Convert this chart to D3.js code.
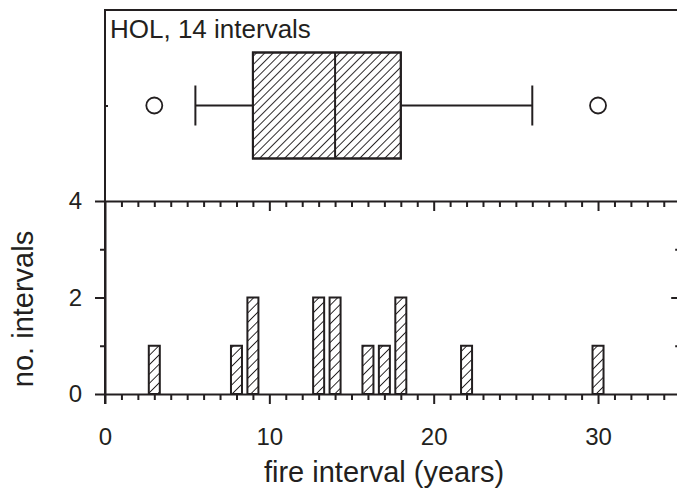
<!DOCTYPE html>
<html>
<head>
<meta charset="utf-8">
<script src="https://cdn.jsdelivr.net/npm/d3@7"></script>
<style>
  html, body { margin: 0; padding: 0; background: #fff; }
  svg { display: block; font-family: "Liberation Sans", Arial, Helvetica, sans-serif; }
</style>
</head>
<body>
<svg id="chart" width="677" height="488"></svg>
<script>
// Histogram of fire intervals (years) and their count
const intervalYears = [3, 8, 9, 13, 14, 16, 17, 18, 22, 30];
const intervalCounts = [1, 1, 2, 2, 2, 1, 1, 2, 1, 1];

// Box-plot summary: whisker low, Q1, median, Q3, whisker high
const boxStats = [5.5, 9, 14, 18, 26];
const outliers = [3, 30];

const siteLabel = "HOL, 14 intervals";
const xTicksMajor = [0, 10, 20, 30];
const yTicksMajor = [0, 2, 4];
const xTitle = "fire interval (years)";
const yTitle = "no. intervals";

const ink = "#231f20";
const svg = d3.select("#chart");

const x = d3.scaleLinear().domain([0, 35]).range([105, 680.2]);
const y = d3.scaleLinear().domain([0, 4]).range([394, 201]);
const yBox = d3.scaleLinear().domain([0, 1]).range([201, 10]);

// hatch patterns
const defs = svg.append("defs");
function hatch(id, gap, sw) {
  const p = defs.append("pattern")
    .attr("id", id)
    .attr("patternUnits", "userSpaceOnUse")
    .attr("width", gap).attr("height", 20)
    .attr("patternTransform", "rotate(45)");
  p.append("line").attr("x1", 0).attr("y1", 0).attr("x2", 0).attr("y2", 20)
    .attr("stroke", ink).attr("stroke-width", sw);
}
hatch("hatchBox", 5.9, 1.9);
hatch("hatchBar", 6.6, 1.9);

// --- histogram bars
const halfW = 0.335;
const bars = svg.append("g");
intervalYears.forEach((v, i) => {
  bars.append("rect")
    .attr("x", x(v - halfW)).attr("y", y(intervalCounts[i]))
    .attr("width", x(v + halfW) - x(v - halfW))
    .attr("height", y(0) - y(intervalCounts[i]))
    .attr("fill", "#fff");
  bars.append("rect")
    .attr("x", x(v - halfW)).attr("y", y(intervalCounts[i]))
    .attr("width", x(v + halfW) - x(v - halfW))
    .attr("height", y(0) - y(intervalCounts[i]))
    .attr("fill", "url(#hatchBar)")
    .attr("stroke", ink).attr("stroke-width", 2);
});

// --- box plot
const [wLo, q1, med, q3, wHi] = boxStats;
const cy = yBox(0.5);
const bh = 53;
const box = svg.append("g").attr("stroke", ink).attr("stroke-width", 2).attr("fill", "none");
box.append("line").attr("x1", x(wLo)).attr("x2", x(q1)).attr("y1", cy).attr("y2", cy);
box.append("line").attr("x1", x(q3)).attr("x2", x(wHi)).attr("y1", cy).attr("y2", cy);
box.append("line").attr("x1", x(wLo)).attr("x2", x(wLo)).attr("y1", cy - 20).attr("y2", cy + 20);
box.append("line").attr("x1", x(wHi)).attr("x2", x(wHi)).attr("y1", cy - 20).attr("y2", cy + 20);
box.append("rect").attr("x", x(q1)).attr("y", cy - bh).attr("width", x(q3) - x(q1)).attr("height", 2 * bh)
  .attr("fill", "#fff");
box.append("rect").attr("x", x(q1)).attr("y", cy - bh).attr("width", x(q3) - x(q1)).attr("height", 2 * bh)
  .attr("fill", "url(#hatchBox)");
box.append("line").attr("x1", x(med)).attr("x2", x(med)).attr("y1", cy - bh).attr("y2", cy + bh);
box.selectAll("circle").data(outliers).join("circle")
  .attr("cx", d => x(d)).attr("cy", cy).attr("r", 8).attr("stroke-width", 1.8).attr("fill", "#fff");

// --- axes
function style(g) {
  g.selectAll("path, line").attr("stroke", ink).attr("stroke-width", 2);
  g.selectAll("text").attr("fill", ink).attr("font-size", 24)
    .attr("font-family", "'Liberation Sans', Arial, sans-serif");
}
const allX = d3.range(0, 36);
const minorX = allX.filter(v => v % 10 !== 0);

// bottom axis (outward ticks)
svg.append("g").attr("transform", `translate(0,${y(0)})`)
  .call(d3.axisBottom(x).tickValues(minorX).tickSize(6).tickSizeOuter(0).tickFormat(""))
  .call(style);
svg.append("g").attr("transform", `translate(0,${y(0)})`)
  .call(d3.axisBottom(x).tickValues(xTicksMajor).tickSize(10).tickPadding(24).tickSizeOuter(0).tickFormat(d3.format("d")))
  .call(style)
  .call(g => g.select(".domain").remove());

// top edge of the histogram panel (inward ticks)
svg.append("g").attr("transform", `translate(0,${y(4)})`)
  .call(d3.axisBottom(x).tickValues(minorX).tickSize(6).tickSizeOuter(0).tickFormat(""))
  .call(style);
svg.append("g").attr("transform", `translate(0,${y(4)})`)
  .call(d3.axisBottom(x).tickValues(xTicksMajor.slice(1)).tickSize(10).tickSizeOuter(0).tickFormat(""))
  .call(style)
  .call(g => g.select(".domain").remove());

// left axis
svg.append("g").attr("transform", `translate(${x(0)},0)`)
  .call(d3.axisLeft(y).tickValues([1, 3]).tickSize(5).tickSizeOuter(0).tickFormat(""))
  .call(style);
svg.append("g").attr("transform", `translate(${x(0)},0)`)
  .call(d3.axisLeft(y).tickValues(yTicksMajor).tickSize(10).tickPadding(13).tickSizeOuter(0).tickFormat(d3.format("d")))
  .call(style)
  .call(g => g.select(".domain").remove());

// right axis (inward ticks)
svg.append("g").attr("transform", `translate(${x(35)},0)`)
  .call(d3.axisLeft(y).tickValues([1, 3]).tickSize(5).tickSizeOuter(0).tickFormat(""))
  .call(style);
svg.append("g").attr("transform", `translate(${x(35)},0)`)
  .call(d3.axisLeft(y).tickValues([2]).tickSize(9).tickSizeOuter(0).tickFormat(""))
  .call(style)
  .call(g => g.select(".domain").remove());

// box-plot panel frame
const frame = svg.append("g").attr("stroke", ink).attr("stroke-width", 2).attr("fill", "none");
frame.append("line").attr("x1", x(0)).attr("x2", x(35)).attr("y1", yBox(1)).attr("y2", yBox(1));
frame.append("line").attr("x1", x(0)).attr("x2", x(0)).attr("y1", yBox(1) - 1).attr("y2", y(0) + 10);
frame.append("line").attr("x1", x(35)).attr("x2", x(35)).attr("y1", yBox(1)).attr("y2", y(0));
svg.append("g").attr("transform", `translate(${x(0)},0)`)
  .call(d3.axisRight(yBox).tickValues([0.5]).tickSize(3).tickFormat(""))
  .call(style)
  .call(g => g.select(".domain").remove());

// labels
svg.append("text").attr("x", 110).attr("y", 38)
  .attr("font-size", 26).attr("fill", ink).text(siteLabel);
svg.append("text").attr("x", 384).attr("y", 482)
  .attr("text-anchor", "middle").attr("font-size", 29).attr("fill", ink).text(xTitle);
svg.append("text")
  .attr("transform", `translate(33,309) rotate(-90)`)
  .attr("text-anchor", "middle").attr("font-size", 29).attr("fill", ink).text(yTitle);
</script>
</body>
</html>
